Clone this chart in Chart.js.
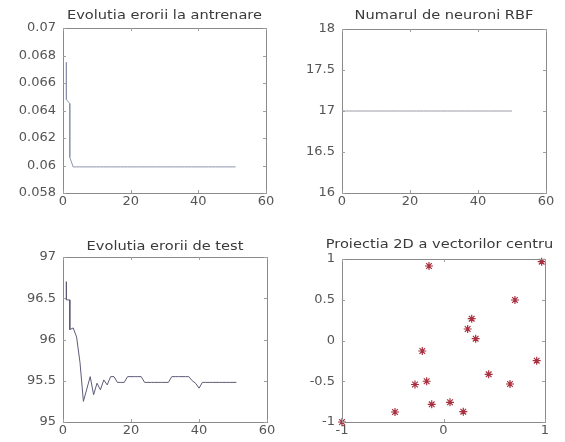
<!DOCTYPE html>
<html><head><meta charset="utf-8">
<script src="https://cdn.jsdelivr.net/npm/chart.js@4.4.1/dist/chart.umd.min.js"></script>
<style>
html,body{margin:0;padding:0;background:#fff;width:565px;height:442px;overflow:hidden}
.p{position:absolute}
canvas{display:block}
</style></head><body>
<div class="p" style="left:0;top:0"><canvas id="c1" width="280" height="220"></canvas></div>
<div class="p" style="left:280px;top:0"><canvas id="c2" width="285" height="220"></canvas></div>
<div class="p" style="left:0;top:220px"><canvas id="c3" width="280" height="222"></canvas></div>
<div class="p" style="left:280px;top:220px"><canvas id="c4" width="285" height="222"></canvas></div>
<script>
// ---- data ----
const trainEpoch = [1,1,2,2,3,4,5,6,7,8,9,10,11,12,13,14,15,16,17,18,19,20,21,22,23,24,25,26,27,28,29,30,31,32,33,34,35,36,37,38,39,40,41,42,43,44,45,46,47,48,49,50,51];
const trainErr = [0.0675,0.0648,0.0645,0.0606,0.0599,0.0599,0.0599,0.0599,0.0599,0.0599,0.0599,0.0599,0.0599,0.0599,0.0599,0.0599,0.0599,0.0599,0.0599,0.0599,0.0599,0.0599,0.0599,0.0599,0.0599,0.0599,0.0599,0.0599,0.0599,0.0599,0.0599,0.0599,0.0599,0.0599,0.0599,0.0599,0.0599,0.0599,0.0599,0.0599,0.0599,0.0599,0.0599,0.0599,0.0599,0.0599,0.0599,0.0599,0.0599,0.0599,0.0599,0.0599,0.0599];

const neuronEpoch = [0,1,2,3,4,5,6,7,8,9,10,11,12,13,14,15,16,17,18,19,20,21,22,23,24,25,26,27,28,29,30,31,32,33,34,35,36,37,38,39,40,41,42,43,44,45,46,47,48,49,50];
const neuronCount = [17,17,17,17,17,17,17,17,17,17,17,17,17,17,17,17,17,17,17,17,17,17,17,17,17,17,17,17,17,17,17,17,17,17,17,17,17,17,17,17,17,17,17,17,17,17,17,17,17,17,17];

const testEpoch = [1,1,2,2,3,4,5,6,7,8,9,10,11,12,13,14,15,16,17,18,19,20,21,22,23,24,25,26,27,28,29,30,31,32,33,34,35,36,37,38,39,40,41,42,43,44,45,46,47,48,49,50,51];
const testErr = [96.70,96.48,96.48,96.12,96.14,96.03,95.72,95.25,95.40,95.55,95.33,95.47,95.39,95.51,95.45,95.55,95.55,95.48,95.48,95.48,95.55,95.55,95.55,95.55,95.55,95.48,95.48,95.48,95.48,95.48,95.48,95.48,95.48,95.55,95.55,95.55,95.55,95.55,95.55,95.50,95.47,95.41,95.48,95.48,95.48,95.48,95.48,95.48,95.48,95.48,95.48,95.48,95.48];

const centerX = [-0.143,0.967,0.704,0.278,0.238,0.317,-0.209,0.918,0.445,0.655,-0.166,-0.281,-0.116,0.064,0.195,-0.478,-1.0];
const centerY = [0.914,0.967,0.497,0.268,0.141,0.022,-0.129,-0.248,-0.415,-0.534,-0.500,-0.540,-0.783,-0.758,-0.873,-0.877,-1.0];

const epochTicks = [0,20,40,60];
const trainTicks = [0.058,0.06,0.062,0.064,0.066,0.068,0.07];
const neuronTicks = [16,16.5,17,17.5,18];
const testTicks = [95,95.5,96,96.5,97];
const projXTicks = [-1,0,1];
const projYTicks = [-1,-0.5,0,0.5,1];

const titles = ['Evolutia erorii la antrenare','Numarul de neuroni RBF','Evolutia erorii de test','Proiectia 2D a vectorilor centru'];

// ---- helpers ----
const FONT = 'DejaVu Sans';
function pts(xs, ys){ return xs.map((x,i)=>({x:x, y:ys[i]})); }
function fmt(v){ return String(parseFloat(Number(v).toFixed(4))); }

const framePlugin = {
  id:'frame',
  afterDatasetsDraw(chart, args, o){
    const a = chart.chartArea, ctx = chart.ctx;
    ctx.save();
    ctx.strokeStyle = '#8a8a8a'; ctx.lineWidth = 1;
    ctx.strokeRect(Math.round(a.left)+0.5, Math.round(a.top)+0.5, Math.round(a.right-a.left), Math.round(a.bottom-a.top));
    const xs = chart.scales.x, ys = chart.scales.y, L = 3;
    ctx.strokeStyle = '#a0a0a0';
    ctx.beginPath();
    xs.ticks.forEach(t=>{
      const px = Math.round(xs.getPixelForValue(t.value))+0.5;
      ctx.moveTo(px, a.bottom); ctx.lineTo(px, a.bottom-L);
      ctx.moveTo(px, a.top); ctx.lineTo(px, a.top+L);
    });
    ys.ticks.forEach(t=>{
      const py = Math.round(ys.getPixelForValue(t.value))+0.5;
      ctx.moveTo(a.left, py); ctx.lineTo(a.left+L, py);
      ctx.moveTo(a.right, py); ctx.lineTo(a.right-L, py);
    });
    ctx.stroke();
    // title (horizontally widened like the reference)
    ctx.fillStyle = '#3a3a3a';
    ctx.font = o.size + 'px "' + FONT + '"';
    ctx.textAlign = 'center'; ctx.textBaseline = 'middle';
    ctx.translate((a.left+a.right)/2 + (o.dx||0), a.top + o.dy);
    ctx.scale(1.27, 1);
    ctx.fillText(o.text, 0, 0);
    ctx.restore();
  }
};

function makeChart(id, cfg){
  const tickFont = {family: FONT, size: 13};
  return new Chart(document.getElementById(id), {
    type: 'scatter',
    data: { datasets: [cfg.dataset] },
    options: {
      responsive:false, animation:false, maintainAspectRatio:false,
      layout:{padding:{top:cfg.top, right:cfg.right, left:0, bottom:0}},
      plugins:{legend:{display:false}, tooltip:{enabled:false},
        frame:{text:cfg.title, dy:cfg.titleDy, size:11.5, dx:cfg.titleDx||0}},
      scales:{
        x:{type:'linear', min:cfg.xmin, max:cfg.xmax,
           afterBuildTicks: s=>{ s.ticks = cfg.xticks.map(v=>({value:v})); },
           afterFit: s=>{ s.height = cfg.xh; },
           grid:{display:false, drawTicks:false}, border:{display:false},
           ticks:{padding:1, color:'#555', font:tickFont, maxRotation:0, autoSkip:false, callback:fmt}},
        y:{type:'linear', min:cfg.ymin, max:cfg.ymax,
           afterBuildTicks: s=>{ s.ticks = cfg.yticks.map(v=>({value:v})); },
           afterFit: s=>{ s.width = cfg.yw; },
           grid:{display:false, drawTicks:false}, border:{display:false},
           ticks:{padding:7, color:'#555', font:tickFont, autoSkip:false, callback:fmt}}
      }
    },
    plugins:[framePlugin]
  });
}

function lineDs(xs, ys, color){
  return {data: pts(xs, ys), showLine:true, borderColor:color, borderWidth:1,
          pointRadius:0, fill:false, tension:0};
}

makeChart('c1', {dataset: lineDs(trainEpoch, trainErr, '#8d93ad'),
  xmin:0, xmax:60, ymin:0.058, ymax:0.07, xticks:epochTicks, yticks:trainTicks,
  top:28, right:14, yw:63, xh:27, title:titles[0], titleDy:-12});
makeChart('c2', {dataset: lineDs(neuronEpoch, neuronCount, '#9a9aa6'),
  xmin:0, xmax:60, ymin:16, ymax:18, xticks:epochTicks, yticks:neuronTicks,
  top:29, right:19, yw:62, xh:27, title:titles[1], titleDy:-13});
makeChart('c3', {dataset: lineDs(testEpoch, testErr, '#5c5c78'),
  xmin:0, xmax:60, ymin:95, ymax:97, xticks:epochTicks, yticks:testTicks,
  top:37, right:13, yw:63, xh:20, title:titles[2], titleDy:-9.5});
makeChart('c4', {dataset: {data: pts(centerX, centerY), showLine:false,
    pointStyle:'star', pointRadius:4, borderColor:'#a8303f', backgroundColor:'#a8303f',
    borderWidth:1.2, clip:false},
  xmin:-1, xmax:1, ymin:-1, ymax:1, xticks:projXTicks, yticks:projYTicks,
  top:39, right:20, yw:62, xh:20, title:titles[3], titleDy:-13.5, titleDx:-4});
</script>
</body></html>
